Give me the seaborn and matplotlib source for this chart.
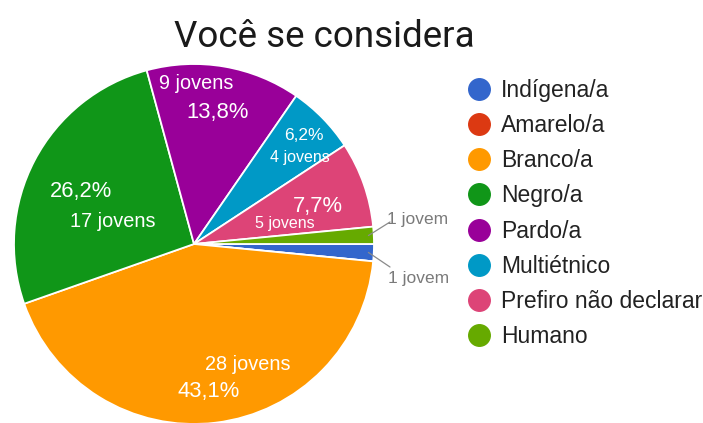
import matplotlib
matplotlib.use("Agg")
import matplotlib.pyplot as plt
import seaborn as sns
import numpy as np
from matplotlib.lines import Line2D

# Survey answers: "Você se considera"
categories = ["Indígena/a", "Amarelo/a", "Branco/a", "Negro/a", "Pardo/a",
              "Multiétnico", "Prefiro não declarar", "Humano"]
counts = [1, 0, 28, 17, 9, 4, 5, 1]
colors = ["#3366cc", "#dc3912", "#ff9900", "#109618", "#990099",
          "#0099c6", "#dd4477", "#66aa00"]
title = "Você se considera"

sns.set_theme(style="white")
plt.rcParams["font.family"] = ["Liberation Sans", "DejaVu Sans"]

W, H = 703, 423
fig = plt.figure(figsize=(W / 100, H / 100), dpi=100)
ax = fig.add_axes([0, 0, 1, 1])


def py(y):
    """Top-down pixel row to axis y."""
    return H - y


cx, cy, R = 194, 244, 180
wedges, _ = ax.pie(counts, colors=colors, startangle=0, counterclock=False,
                   center=(cx, py(cy)), radius=R,
                   wedgeprops=dict(edgecolor="white", linewidth=1.3))
ax.set_xlim(0, W)
ax.set_ylim(0, H)
ax.set_aspect("equal")
ax.axis("off")

total = sum(counts)


def pct(v):
    return f"{v / total * 100:.1f}%".replace(".", ",")


def count_txt(v):
    return f"{v} jovem" if v == 1 else f"{v} jovens"


# Inner labels: (slice, kind, x, baseline, size in pt)
inner_layout = [
    (2, "count", 248, 370, 14.3), (2, "pct", 209, 397, 15.8),
    (3, "pct", 81, 197, 15.8), (3, "count", 113, 227, 14.3),
    (4, "count", 196, 89, 14.3), (4, "pct", 218, 118, 15.8),
    (5, "pct", 304, 140, 12.5), (5, "count", 300, 162, 11.5),
    (6, "pct", 318, 212, 15.8), (6, "count", 285, 228, 11.5),
]
for i, kind, x, y, size in inner_layout:
    s = pct(counts[i]) if kind == "pct" else count_txt(counts[i])
    ax.text(x, py(y), s, color="white", fontsize=size, ha="center",
            va="baseline")

# Outside labels with leader lines for the thin slices
cum = np.concatenate([[0], np.cumsum(counts)])
outer_layout = [(7, 390, 222, 418, 224), (0, 390, 267, 419, 283)]
for i, lx, ly, tx, ty in outer_layout:
    mid = -360 * (cum[i] + cum[i + 1]) / 2 / total
    a = np.deg2rad(mid)
    sx, sy = cx + 0.97 * R * np.cos(a), cy - 0.97 * R * np.sin(a)
    ax.plot([sx, lx], [py(sy), py(ly)], color="#8a8a8a", lw=0.9)
    ax.text(tx, py(ty), count_txt(counts[i]), color="#7a7a7a", fontsize=12.5,
            ha="center", va="baseline")

fig.text(324 / W, 1 - 47 / H, title, fontsize=26.5, family=["Roboto", "DejaVu Sans"],
         color="#1a1a1a", ha="center", va="baseline")

handles = [Line2D([], [], marker="o", ls="", markersize=15.5,
                  markerfacecolor=c, markeredgecolor=c) for c in colors]
ax.legend(handles, categories, loc="upper left",
          bbox_to_anchor=(468 / W, 1 - 79 / H), frameon=False,
          fontsize=16.5, handlelength=1.0, handletextpad=0.45,
          labelspacing=0.53, borderpad=0, borderaxespad=0,
          labelcolor="#222222")

fig.savefig("out.png", dpi=100, facecolor="white")
